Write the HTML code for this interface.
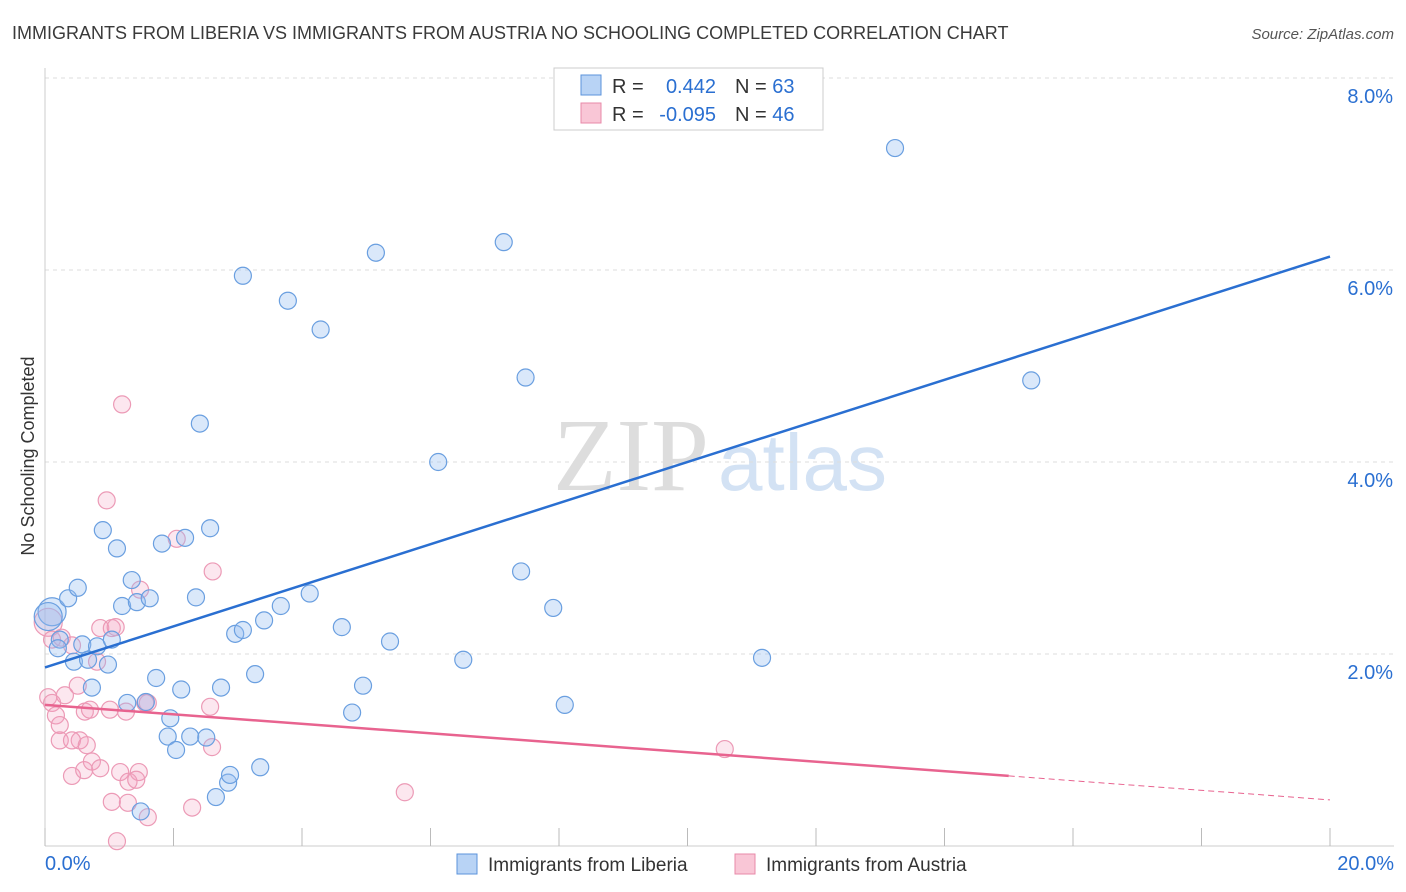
<!DOCTYPE html>
<html><head><meta charset="utf-8"><style>
body{margin:0;background:#fff;font-family:"Liberation Sans",sans-serif;}
svg{display:block}
</style></head><body>
<svg id="chart" width="1406" height="892">
<text x="12" y="39" font-size="18" fill="#3a3a3a">IMMIGRANTS FROM LIBERIA VS IMMIGRANTS FROM AUSTRIA NO SCHOOLING COMPLETED CORRELATION CHART</text>
<text x="1394" y="39" font-size="15" fill="#555" font-style="italic" text-anchor="end">Source: ZipAtlas.com</text>
<g><text x="553" y="490" font-size="104" font-family="Liberation Serif,serif" fill="#ddd">ZIP</text><text x="718" y="490" font-size="80" fill="#d3e2f4">atlas</text></g>
<g id="grid"></g><g id="axes"></g>
<text transform="translate(34,456) rotate(-90)" font-size="18" fill="#333" text-anchor="middle">No Schooling Completed</text>
<g id="marks"></g>
<g>
<rect x="554" y="68" width="269" height="62" fill="#fff" stroke="#ccc"/>
<rect x="581" y="75" width="20" height="20" fill="#b8d3f5" stroke="#5b93db"/>
<rect x="581" y="103" width="20" height="20" fill="#f9c6d6" stroke="#e889a8"/>
<text x="612" y="93" font-size="20" fill="#333">R =</text>
<text x="716" y="93" font-size="20" fill="#2a6fd1" text-anchor="end">0.442</text>
<text x="735" y="93" font-size="20" fill="#333">N = <tspan fill="#2a6fd1">63</tspan></text>
<text x="612" y="121" font-size="20" fill="#333">R =</text>
<text x="716" y="121" font-size="20" fill="#2a6fd1" text-anchor="end">-0.095</text>
<text x="735" y="121" font-size="20" fill="#333">N = <tspan fill="#2a6fd1">46</tspan></text>
</g>
<g>
<rect x="457" y="854" width="20" height="20" fill="#b8d3f5" stroke="#5b93db"/>
<text x="488" y="871" font-size="19" fill="#333">Immigrants from Liberia</text>
<rect x="735" y="854" width="20" height="20" fill="#f9c6d6" stroke="#e889a8"/>
<text x="766" y="871" font-size="19" fill="#333">Immigrants from Austria</text>
</g>
</svg>
<script>
const xTicks=[0,2,4,6,8,10,12,14,16,18,20];
const yTicks=[2,4,6,8];
const liberiaX=[0.11,0.05,0.23,0.2,0.36,0.51,0.45,0.58,0.67,0.81,0.98,0.73,0.9,1.12,1.2,1.35,1.43,1.63,1.04,1.28,1.57,1.73,1.95,1.91,2.04,2.12,1.82,2.18,2.35,2.57,2.26,2.51,2.74,2.66,2.85,2.88,2.96,3.08,3.27,3.35,3.41,3.67,4.12,4.62,4.78,4.95,5.37,6.51,7.41,7.91,8.09,11.16,2.41,3.08,3.78,4.29,5.15,6.12,7.14,7.48,13.23,15.35,1.49];
const liberiaY=[2.44,2.39,2.15,2.06,2.58,2.69,1.92,2.1,1.94,2.08,1.89,1.65,3.29,3.1,2.5,2.77,2.54,2.58,2.15,1.49,1.5,1.75,1.33,1.14,1.0,1.63,3.15,3.21,2.59,3.31,1.14,1.13,1.65,0.51,0.66,0.74,2.21,2.25,1.79,0.82,2.35,2.5,2.63,2.28,1.39,1.67,2.13,1.94,2.86,2.48,1.47,1.96,4.4,5.94,5.68,5.38,6.18,4.0,6.29,4.88,7.27,4.85,0.36];
const austriaX=[0.05,0.11,0.26,0.42,0.81,0.05,0.11,0.31,0.17,0.23,0.51,0.62,0.7,0.54,0.23,0.42,0.65,0.42,0.61,0.73,0.86,1.01,0.86,1.04,1.1,1.17,1.3,1.46,1.42,1.04,1.29,1.6,1.2,0.96,1.48,2.05,2.61,1.6,1.26,2.29,2.57,2.6,5.6,10.58,1.12,1.56];
const austriaY=[2.33,2.15,2.17,2.09,1.92,1.55,1.49,1.57,1.36,1.26,1.67,1.4,1.42,1.10,1.10,1.10,1.05,0.73,0.79,0.88,0.81,1.42,2.27,2.27,2.28,0.77,0.67,0.77,0.69,0.46,0.45,0.30,4.6,3.6,2.67,3.2,2.86,1.49,1.4,0.4,1.45,1.03,0.56,1.01,0.05,1.49];
const liberiaR=[14,14];
const NS="http://www.w3.org/2000/svg";
const X=v=>45+v/20*1285, Y=v=>846-v*96;
function mk(t,a,p){const e=document.createElementNS(NS,t);for(const k in a)e.setAttribute(k,a[k]);p.appendChild(e);return e;}
const grid=document.getElementById('grid'),axes=document.getElementById('axes'),marks=document.getElementById('marks');
yTicks.forEach(v=>{
 const l=mk('line',{x1:45,x2:1394,y1:Y(v),y2:Y(v),stroke:'#ddd','stroke-dasharray':'4,4'},grid);
 
 
 const t=mk('text',{x:1393,y:Y(v)+25,'font-size':20,fill:'#2a6fd1','text-anchor':'end'},axes);
 t.textContent=v.toFixed(1)+'%';
 
 
});
mk('line',{x1:45,x2:45,y1:68,y2:846,stroke:'#ccc'},axes);
mk('line',{x1:45,x2:1394,y1:846,y2:846,stroke:'#ccc'},axes);
xTicks.forEach(v=>{
 const l=mk('line',{x1:X(v),x2:X(v),y1:828,y2:846,stroke:'#bbb'},axes);
 
 
});
[[0,'0.0%','start',45],[20,'20.0%','end',1394]].forEach(d=>{
 const t=mk('text',{x:d[3],y:870,'font-size':20,fill:'#2a6fd1','text-anchor':d[2]},axes);
 t.textContent=d[1];
 
 
});
austriaX.forEach((x,i)=>{
 const c=mk('circle',{cx:X(x),cy:Y(austriaY[i]),r:i==0?14:8.5,fill:'rgba(245,160,190,0.25)',stroke:'#ec9ab6','stroke-width':1.2},marks);
 
 
});
liberiaX.forEach((x,i)=>{
 const c=mk('circle',{cx:X(x),cy:Y(liberiaY[i]),r:liberiaR[i]||8.5,fill:'rgba(150,190,240,0.35)',stroke:'#6a9fe0','stroke-width':1.2},marks);
 
 
});
const bl=mk('line',{x1:X(0),y1:Y(1.86),x2:X(20),y2:Y(6.14),stroke:'#2a6fd1','stroke-width':2.5},marks);


const pl=mk('line',{x1:X(0),y1:Y(1.47),x2:X(15),y2:Y(0.73),stroke:'#e8638f','stroke-width':2.5},marks);


const pd=mk('line',{x1:X(15),y1:Y(0.73),x2:X(20),y2:Y(0.48),stroke:'#e8638f','stroke-width':1,'stroke-dasharray':'6,4'},marks);


</script>
</body></html>
